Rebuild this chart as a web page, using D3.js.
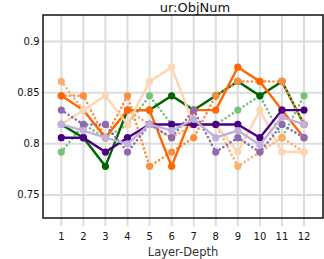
<!DOCTYPE html>
<html>
<head>
<meta charset="utf-8">
<script src="https://cdn.jsdelivr.net/npm/d3@7"></script>
<style>
  body { margin: 0; background: #fff; }
  svg { display: block; font-family: "DejaVu Sans", Verdana, sans-serif; }
</style>
</head>
<body>
<svg id="drawing_region" width="324" height="259"></svg>
<script>
// values (x = layer depth 1..12)
const layers = [1, 2, 3, 4, 5, 6, 7, 8, 9, 10, 11, 12];
const yTicks = [0.75, 0.8, 0.85, 0.9];

const darkGreen   = [0.819, 0.806, 0.778, 0.833, 0.833, 0.847, 0.833, 0.847, 0.861, 0.847, 0.861, 0.819];
const greenDot    = [0.792, 0.819, 0.806, 0.819, 0.847, 0.819, 0.819, 0.819, 0.833, 0.847, 0.806, 0.847];
const orangeDot   = [0.847, 0.847, 0.806, 0.847, 0.778, 0.792, 0.806, 0.847, 0.861, 0.861, 0.861, 0.819];
const salmonDot   = [0.861, 0.833, 0.806, 0.833, 0.819, 0.806, 0.819, 0.819, 0.778, 0.792, 0.806, 0.792];
const darkOrange  = [0.847, 0.833, 0.806, 0.833, 0.833, 0.778, 0.833, 0.833, 0.875, 0.861, 0.833, 0.806];
const peach       = [0.819, 0.833, 0.847, 0.819, 0.861, 0.875, 0.819, 0.819, 0.792, 0.833, 0.792, 0.792];
const purpleDot   = [0.833, 0.819, 0.819, 0.792, 0.819, 0.806, 0.833, 0.792, 0.806, 0.792, 0.819, 0.806];
const darkPurple  = [0.806, 0.806, 0.792, 0.806, 0.819, 0.819, 0.819, 0.819, 0.819, 0.806, 0.833, 0.833];
const lavender    = [0.819, 0.813, 0.806, 0.800, 0.819, 0.813, 0.824, 0.806, 0.813, 0.799, 0.826, 0.819];

const series = [
    { values: greenDot,   color: '#78c27a', dotted: true },
    { values: darkGreen,  color: '#006400', dotted: false },
    { values: orangeDot,  color: '#fd8d3c', dotted: true },
    { values: salmonDot,  color: '#fdae6b', dotted: true },
    { values: darkOrange, color: '#ff6600', dotted: false },
    { values: peach,      color: '#ffd5b0', dotted: false },
    { values: purpleDot,  color: '#8c6bb1', dotted: true },
    { values: darkPurple, color: '#4b0082', dotted: false },
    { values: lavender,   color: '#c0b0da', dotted: false },
];

const svg = d3.select('#drawing_region');
const plotL = 43, plotR = 323, plotT = 15, plotB = 218;

const xscale = d3.scaleLinear().domain([0.17, 12.86]).range([plotL, plotR]);
const yscale = d3.scaleLinear().domain([0.7275, 0.926]).range([plotB, plotT]);

// grid
svg.append('g').selectAll('line').data(layers).enter().append('line')
    .attr('x1', d => xscale(d)).attr('x2', d => xscale(d))
    .attr('y1', plotT).attr('y2', plotB + 8)
    .attr('stroke', '#dcdcdc').attr('stroke-width', 2);
svg.append('g').selectAll('line').data(yTicks).enter().append('line')
    .attr('x1', plotL).attr('x2', plotR)
    .attr('y1', d => yscale(d)).attr('y2', d => yscale(d))
    .attr('stroke', '#dcdcdc').attr('stroke-width', 2);

// lines + markers
const line = d3.line()
    .x((d, i) => xscale(layers[i]))
    .y(d => yscale(d));

series.forEach( s => {
    svg.append('path')
        .datum(s.values)
        .attr('d', line)
        .attr('fill', 'none')
        .attr('stroke', s.color)
        .attr('stroke-width', s.dotted ? 2.6 : 2.4)
        .attr('stroke-linecap', 'round')
        .attr('stroke-dasharray', s.dotted ? '0.1 4.2' : null);
    svg.append('g').selectAll('circle').data(s.values).enter().append('circle')
        .attr('cx', (d, i) => xscale(layers[i]))
        .attr('cy', d => yscale(d))
        .attr('r', 3.6)
        .attr('fill', s.color);
});

// frame
svg.append('rect')
    .attr('x', plotL).attr('y', plotT)
    .attr('width', plotR - plotL).attr('height', plotB - plotT)
    .attr('fill', 'none').attr('stroke', '#111').attr('stroke-width', 1.5);

// tick labels
svg.append('g').selectAll('text').data(yTicks).enter().append('text')
    .attr('x', 39.5).attr('y', d => yscale(d))
    .attr('dy', '0.35em')
    .attr('text-anchor', 'end')
    .attr('font-size', 10)
    .attr('fill', '#111')
    .text(d => d3.format('')(d));
svg.append('g').selectAll('text').data(layers).enter().append('text')
    .attr('x', d => xscale(d)).attr('y', 236)
    .attr('dy', '0.35em')
    .attr('text-anchor', 'middle')
    .attr('font-size', 10)
    .attr('fill', '#111')
    .text(d => d);

// title + axis label
svg.append('text')
    .attr('x', 195).attr('y', 11.5)
    .attr('text-anchor', 'middle')
    .attr('font-size', 13)
    .attr('fill', '#111')
    .text('ur:ObjNum');
svg.append('text')
    .attr('x', 183).attr('y', 252)
    .attr('dy', '0.35em')
    .attr('text-anchor', 'middle')
    .attr('font-size', 11.5)
    .attr('fill', '#333')
    .text('Layer-Depth');
</script>
</body>
</html>
